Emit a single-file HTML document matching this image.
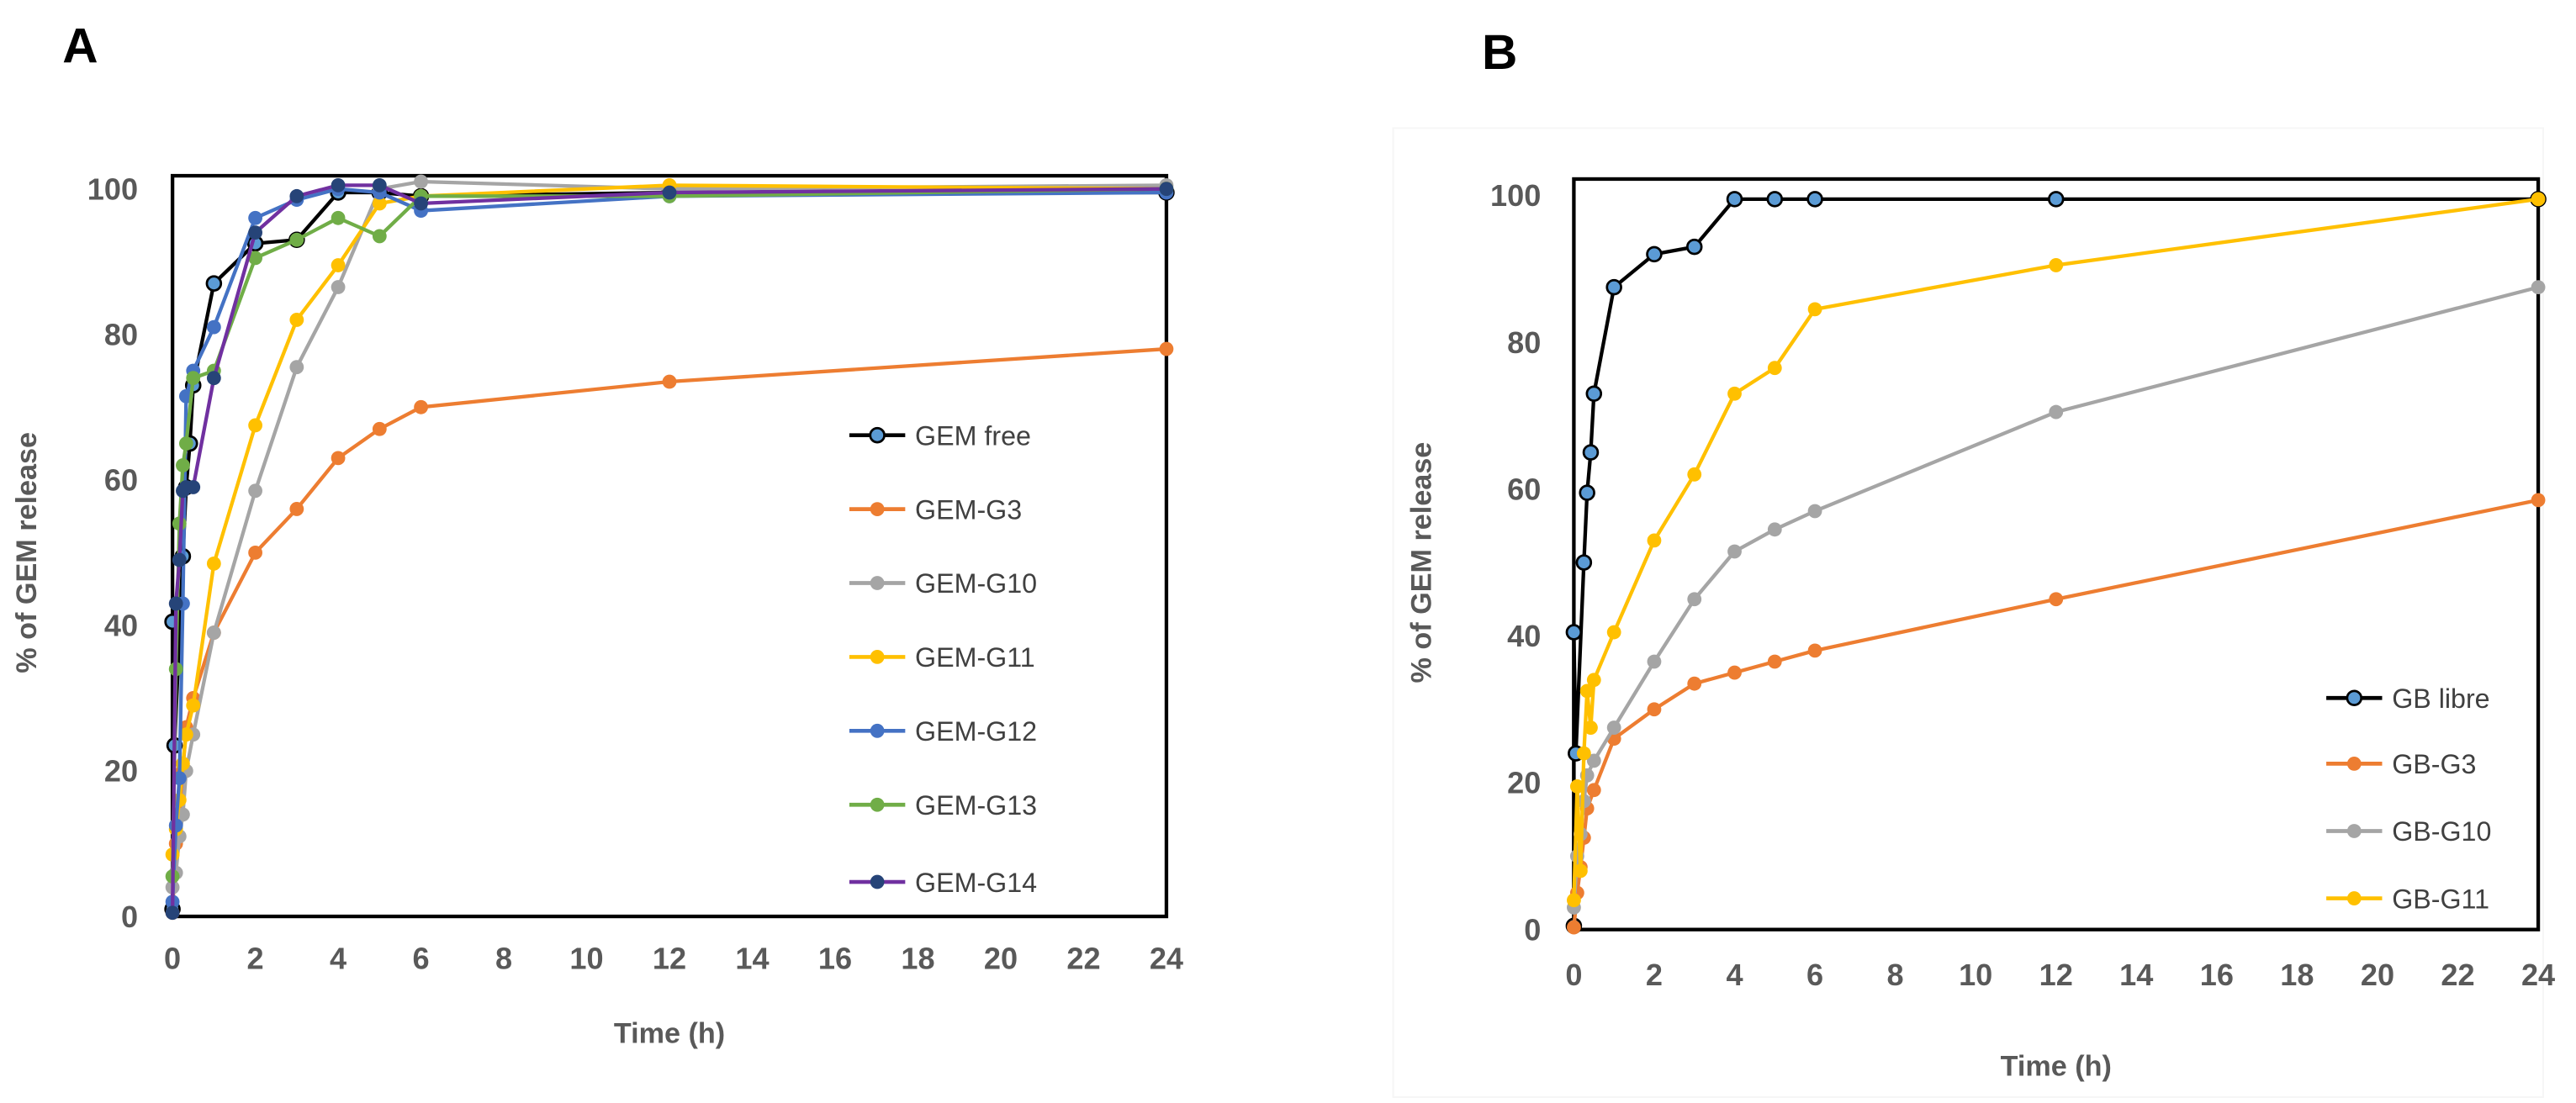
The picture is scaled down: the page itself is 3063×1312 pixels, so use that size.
<!DOCTYPE html>
<html><head><meta charset="utf-8">
<style>
html,body{margin:0;padding:0;background:#fff;}
svg{display:block;}
text{font-family:"Liberation Sans",sans-serif;}
</style></head>
<body>
<svg id="fig" width="3063" height="1312" viewBox="0 0 1568 671.6" xmlns="http://www.w3.org/2000/svg">
<rect x="0" y="0" width="1568" height="671.6" fill="#fff"/>
<text x="38" y="38" font-size="30" font-weight="bold" fill="#000">A</text>
<text x="902" y="42" font-size="30" font-weight="bold" fill="#000">B</text>
<rect x="848" y="78" width="700" height="590" fill="none" stroke="#f6f6f6" stroke-width="1"/>
<g id="panelA"></g>
<g id="panelB"></g>
</svg>
<script>
// ---- shared axis data ----
const xTicks = [0,2,4,6,8,10,12,14,16,18,20,22,24];
const yTicks = [0,20,40,60,80,100];

// ---- Panel A data ----
const tA = [0,0.083,0.167,0.25,0.33,0.5,1,2,3,4,5,6,12,24];
const tAfree = [0,0,0.05,0.25,0.33,0.42,0.5,1,2,3,4,5,6,12,24];
const gemFree = [1,40.5,23.5,49.5,59,65,73,87,92.5,93,99.5,99.5,99,99.5,99.5];
const gemG3  = [0.5,10,14,20,26,30,39,50,56,63,67,70,73.5,78];
const gemG10 = [4,6,11,14,20,25,39,58.5,75.5,86.5,100,101,100,100.5];
const gemG11 = [8.5,12,16,21,25,29,48.5,67.5,82,89.5,98,99,100.5,100];
const gemG12 = [2,12.5,19,43,71.5,75,81,96,98.5,100,99.5,97,99,99.5];
const gemG13 = [5.5,34,54,62,65,74,75,90.5,93,96,93.5,99,99,100];
const gemG14 = [0.5,43,49,58.5,59,59,74,94,99,100.5,100.5,98,99.5,100];

// ---- Panel B data ----
const tB = [0,0.083,0.167,0.25,0.33,0.5,1,2,3,4,5,6,12,24];
const tBfree = [0,0,0.05,0.25,0.33,0.42,0.5,1,2,3,4,5,6,12,24];
const tB11 = [0,0.083,0.167,0.25,0.33,0.42,0.5,1,2,3,4,5,6,12,24];
const gbLibre = [0.5,40.5,24,50,59.5,65,73,87.5,92,93,99.5,99.5,99.5,99.5,99.5];
const gbG3  = [0.3,5,8.5,12.5,16.5,19,26,30,33.5,35,36.5,38,45,58.5];
const gbG10 = [3,10,13,17.5,21,23,27.5,36.5,45,51.5,54.5,57,70.5,87.5];
const gbG11 = [4,19.5,8,24,32.5,27.5,34,40.5,53,62,73,76.5,84.5,90.5,99.5];

const NS = "http://www.w3.org/2000/svg";
function mk(tag, attrs, parent){
  const e = document.createElementNS(NS, tag);
  for (const k in attrs) e.setAttribute(k, attrs[k]);
  parent.appendChild(e);
  return e;
}

function drawPanel(g, cfg){
  const sx = v => cfg.x0 + (cfg.x1 - cfg.x0) * v / 24;
  const sy = v => cfg.y0 - (cfg.y0 - cfg.y100) * v / 100;
  const fr = mk('rect', {x:cfg.x0, y:cfg.top, width:cfg.x1-cfg.x0, height:cfg.y0-cfg.top, fill:'none', stroke:'#000', 'stroke-width':2.2}, g);
  
  
  xTicks.forEach(v => {
    const t = mk('text', {x:sx(v), y:cfg.xLabY, 'font-size':18.5, 'font-weight':'bold', fill:'#595959', 'text-anchor':'middle'}, g);
    t.textContent = v;
    
    
  });
  yTicks.forEach(v => {
    const t = mk('text', {x:cfg.yLabX, y:sy(v)+6.5, 'font-size':18.5, 'font-weight':'bold', fill:'#595959', 'text-anchor':'end'}, g);
    t.textContent = v;
    
    
  });
  const xt = mk('text', {x:(cfg.x0+cfg.x1)/2, y:cfg.xTitleY, 'font-size':17.5, 'font-weight':'bold', fill:'#595959', 'text-anchor':'middle'}, g);
  xt.textContent = 'Time (h)';
  
  
  const cy = (cfg.y0 + cfg.y100)/2;
  const yt = mk('text', {x:cfg.yTitleX, y:cy, 'font-size':17.5, 'font-weight':'bold', fill:'#595959', 'text-anchor':'middle', transform:`rotate(-90 ${cfg.yTitleX} ${cy})`}, g);
  yt.textContent = '% of GEM release';
  
  
  cfg.series.forEach((s, si) => {
    const sg = mk('g', {}, g);
    
    
    const d = s.t.map((tv, i) => (i ? 'L' : 'M') + sx(tv).toFixed(2) + ',' + sy(s.v[i]).toFixed(2)).join(' ');
    const p = mk('path', {d:d, fill:'none', stroke:s.line, 'stroke-width':2.2, 'stroke-linejoin':'round'}, sg);
    
    
    s.t.forEach((tv, i) => {
      const c = mk('circle', {cx:sx(tv), cy:sy(s.v[i]), r:4.3, fill:s.mk, stroke:s.edge || 'none', 'stroke-width':s.edge ? 1.4 : 0}, sg);
      
      
    });
    const ly = cfg.legY[si];
    const lg = mk('g', {}, g);
    
    
    mk('line', {x1:cfg.legX, x2:cfg.legX+34, y1:ly, y2:ly, stroke:s.line, 'stroke-width':2.4}, lg);
    mk('circle', {cx:cfg.legX+17, cy:ly, r:4.3, fill:s.mk, stroke:s.edge || 'none', 'stroke-width':s.edge ? 1.4 : 0}, lg);
    const lt = mk('text', {x:cfg.legX+40, y:ly+6, 'font-size':16.5, fill:'#404040'}, lg);
    lt.textContent = s.name;
  });
}

drawPanel(document.getElementById('panelA'), {
  x0:105, x1:710, y0:558, y100:115, top:107,
  xLabY:590, yLabX:84, xTitleY:635, yTitleX:22,
  legX:517, legY:[265,310,355,400,445,490,537],
  series:[
    {key:'gem-free', name:'GEM free', t:tAfree, v:gemFree, line:'#000', mk:'#5B9BD5', edge:'#000'},
    {key:'gem-g3', name:'GEM-G3', t:tA, v:gemG3, line:'#ED7D31', mk:'#ED7D31'},
    {key:'gem-g10', name:'GEM-G10', t:tA, v:gemG10, line:'#A5A5A5', mk:'#A5A5A5'},
    {key:'gem-g11', name:'GEM-G11', t:tA, v:gemG11, line:'#FFC000', mk:'#FFC000'},
    {key:'gem-g12', name:'GEM-G12', t:tA, v:gemG12, line:'#4472C4', mk:'#4472C4'},
    {key:'gem-g13', name:'GEM-G13', t:tA, v:gemG13, line:'#70AD47', mk:'#70AD47'},
    {key:'gem-g14', name:'GEM-G14', t:tA, v:gemG14, line:'#7030A0', mk:'#264478'}
  ]
});

drawPanel(document.getElementById('panelB'), {
  x0:958, x1:1545, y0:566, y100:119, top:109,
  xLabY:600, yLabX:938, xTitleY:655, yTitleX:871,
  legX:1416, legY:[425,465,506,547],
  series:[
    {key:'gb-libre', name:'GB libre', t:tBfree, v:gbLibre, line:'#000', mk:'#5B9BD5', edge:'#000'},
    {key:'gb-g3', name:'GB-G3', t:tB, v:gbG3, line:'#ED7D31', mk:'#ED7D31'},
    {key:'gb-g10', name:'GB-G10', t:tB, v:gbG10, line:'#A5A5A5', mk:'#A5A5A5'},
    {key:'gb-g11', name:'GB-G11', t:tB11, v:gbG11, line:'#FFC000', mk:'#FFC000'}
  ]
});
</script>
</body></html>
